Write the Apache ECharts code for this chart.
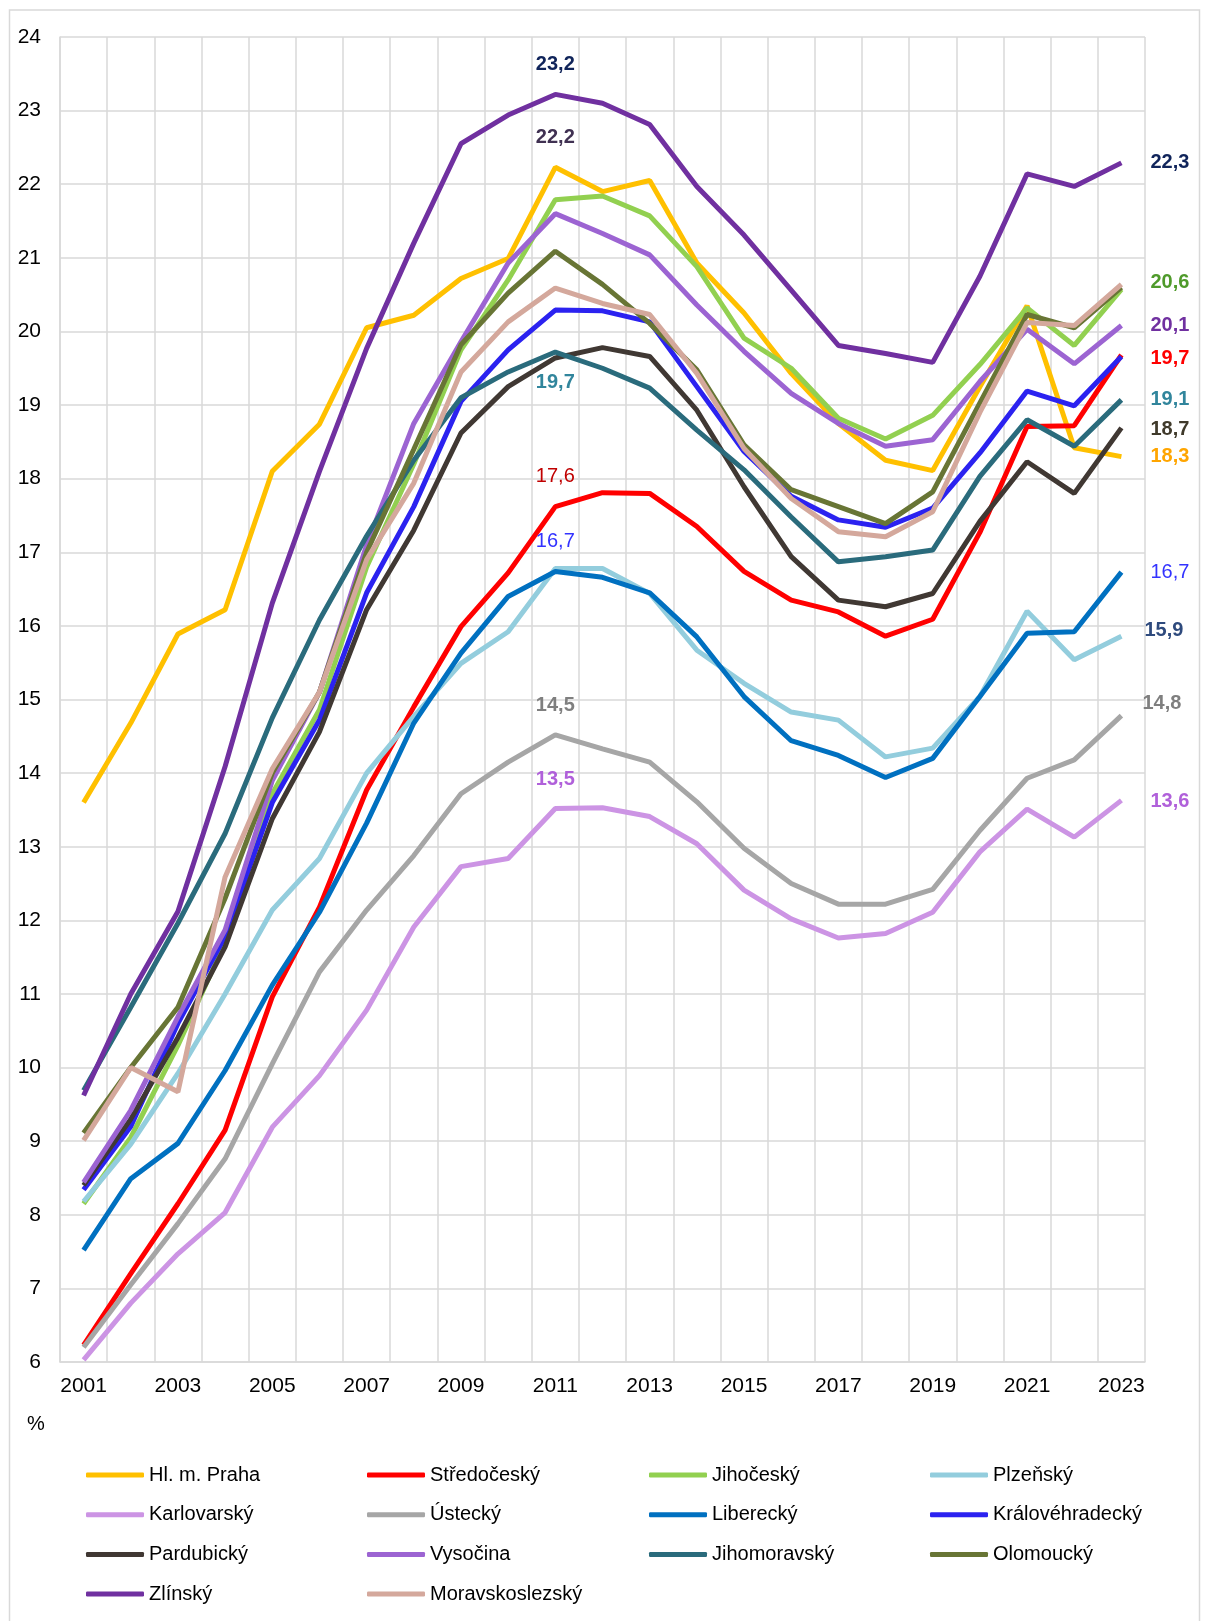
<!DOCTYPE html>
<html>
<head>
<meta charset="utf-8">
<script src="https://cdn.jsdelivr.net/npm/echarts@6/dist/echarts.min.js"></script>
<style>
  html, body { margin: 0; padding: 0; background: #fff; }
  #chart { width: 1208px; height: 1621px; }
</style>
</head>
<body>
<div id="chart"></div>
<script>
// roky
const years = ['2001','2002','2003','2004','2005','2006','2007','2008','2009','2010','2011','2012',
  '2013','2014','2015','2016','2017','2018','2019','2020','2021','2022','2023'];

// hodnoty v % podle krajů
const praha = [13.60,14.68,15.89,16.22,18.10,18.74,20.05,20.22,20.72,20.99,22.23,21.90,22.05,20.93,20.25,19.43,18.75,18.25,18.11,19.25,20.35,18.42,18.30];
const stredocesky = [6.23,7.20,8.15,9.15,10.96,12.18,13.77,14.90,15.99,16.72,17.62,17.81,17.80,17.35,16.74,16.35,16.19,15.86,16.09,17.27,18.71,18.72,19.68];
const jihocesky = [8.15,9.05,10.30,11.70,13.72,14.86,16.80,18.20,19.75,20.70,21.79,21.84,21.57,20.88,19.91,19.50,18.82,18.54,18.86,19.55,20.32,19.81,20.57];
const plzensky = [8.18,8.96,9.92,11.00,12.14,12.84,14.00,14.77,15.49,15.92,16.78,16.78,16.44,15.67,15.22,14.83,14.72,14.22,14.34,15.04,16.20,15.54,15.86];
const karlovarsky = [6.03,6.80,7.47,8.03,9.19,9.89,10.78,11.91,12.73,12.84,13.52,13.53,13.41,13.04,12.41,12.02,11.76,11.82,12.11,12.93,13.51,13.13,13.63];
const ustecky = [6.20,7.05,7.88,8.76,10.05,11.30,12.14,12.88,13.72,14.15,14.52,14.33,14.15,13.61,12.98,12.50,12.22,12.22,12.42,13.22,13.93,14.18,14.78];
const liberecky = [7.52,8.49,8.97,9.96,11.12,12.11,13.32,14.68,15.63,16.40,16.74,16.66,16.45,15.85,15.04,14.44,14.24,13.94,14.20,15.04,15.90,15.92,16.73];
const kralovehradecky = [8.34,9.20,10.60,11.78,13.60,14.72,16.45,17.62,19.05,19.75,20.29,20.28,20.13,19.25,18.37,17.76,17.44,17.34,17.60,18.35,19.19,18.99,19.66];
const pardubicky = [8.40,9.30,10.41,11.64,13.38,14.56,16.22,17.30,18.62,19.25,19.64,19.78,19.66,18.93,17.89,16.94,16.35,16.26,16.44,17.42,18.23,17.80,18.69];
const vysocina = [8.44,9.42,10.69,11.87,13.90,15.10,17.10,18.75,19.86,20.93,21.60,21.33,21.04,20.36,19.73,19.16,18.75,18.44,18.53,19.32,20.03,19.56,20.08];
const jihomoravsky = [9.69,10.82,11.96,13.18,14.75,16.08,17.22,18.25,19.10,19.45,19.72,19.50,19.23,18.66,18.12,17.48,16.87,16.94,17.03,18.03,18.80,18.44,19.07];
const olomoucky = [9.11,10.00,10.82,12.30,14.00,15.10,17.00,18.40,19.82,20.52,21.09,20.64,20.11,19.48,18.46,17.85,17.62,17.39,17.82,19.03,20.23,20.05,20.60];
const zlinsky = [9.62,11.00,12.12,14.09,16.31,18.10,19.77,21.20,22.55,22.94,23.22,23.10,22.81,21.97,21.31,20.56,19.81,19.70,19.58,20.75,22.14,21.97,22.29];
const moravskoslezsky = [9.01,10.00,9.67,12.59,14.06,15.10,16.90,17.94,19.45,20.13,20.59,20.38,20.23,19.43,18.41,17.73,17.28,17.21,17.55,18.90,20.12,20.08,20.64];

const regionNames = ['Hl. m. Praha','Středočeský','Jihočeský','Plzeňský','Karlovarský','Ústecký','Liberecký',
  'Královéhradecký','Pardubický','Vysočina','Jihomoravský','Olomoucký','Zlínský','Moravskoslezský'];
const regionData = [praha, stredocesky, jihocesky, plzensky, karlovarsky, ustecky, liberecky,
  kralovehradecky, pardubicky, vysocina, jihomoravsky, olomoucky, zlinsky, moravskoslezsky];
const regionColors = ['#FFC000','#FF0000','#92D050','#93CDDD','#CC94E4','#A6A6A6','#0070C0',
  '#2B22F0','#403833','#9C64D2','#2A6B7C','#687535','#7030A0','#D4A89C'];

// popisky hodnot: [kraj, index roku, pozice, vzdálenost, posun, barva, tučně]
const callouts = [
  ['Zlínský', 10, 'top', 20, [0, 0], '#10245A', true],
  ['Hl. m. Praha', 10, 'top', 20, [0, 0], '#403152', true],
  ['Jihomoravský', 10, 'bottom', 20, [0, 0], '#31859C', true],
  ['Středočeský', 10, 'top', 20, [0, 0], '#C00000', false],
  ['Liberecký', 10, 'top', 20, [0, 0], '#3333FF', false],
  ['Ústecký', 10, 'top', 19, [0, 0], '#7F7F7F', true],
  ['Karlovarský', 10, 'top', 19, [0, 0], '#B060DA', true],
  ['Zlínský', 22, 'right', 29, [0, 0], '#10245A', true],
  ['Jihočeský', 22, 'right', 29, [0, -7], '#4F9A2B', true],
  ['Vysočina', 22, 'right', 29, [0, 0], '#7030A0', true],
  ['Středočeský', 22, 'right', 29, [0, 3], '#FF0000', true],
  ['Jihomoravský', 22, 'right', 29, [0, 0], '#31859C', true],
  ['Pardubický', 22, 'right', 29, [0, 2], '#403A2B', true],
  ['Hl. m. Praha', 22, 'right', 29, [0, 0], '#FFA500', true],
  ['Liberecký', 22, 'right', 29, [0, 0], '#3333FF', false],
  ['Plzeňský', 22, 'right', 23, [0, -6], '#2E4A7D', true],
  ['Ústecký', 22, 'right', 21, [0, -12], '#7F7F7F', true],
  ['Karlovarský', 22, 'right', 29, [0, 1], '#B060DA', true]
];

const FONT = '"Liberation Sans", Arial, sans-serif';
const GRID_COLOR = '#D9D9D9';

const series = regionNames.map((name, s) => {
  const data = regionData[s].map(v => v);
  callouts.filter(c => c[0] === name).forEach(c => {
    data[c[1]] = {
      value: regionData[s][c[1]],
      label: {
        show: true,
        position: c[2],
        distance: c[3],
        offset: c[4],
        color: c[5],
        fontWeight: c[6] ? 'bold' : 'normal',
        fontSize: 20,
        fontFamily: FONT,
        formatter: p => p.value.toFixed(1).replace('.', ',')
      }
    };
  });
  return {
    name: name,
    type: 'line',
    data: data,
    symbol: 'circle',
    symbolSize: 0,
    showSymbol: true,
    showAllSymbol: true,
    color: regionColors[s],
    lineStyle: { width: 5, color: regionColors[s] },
    emphasis: { disabled: true },
    animation: false
  };
});

// legenda ve 4 sloupcích
const legendCols = [
  ['Hl. m. Praha','Karlovarský','Pardubický','Zlínský'],
  ['Středočeský','Ústecký','Vysočina','Moravskoslezský'],
  ['Jihočeský','Liberecký','Jihomoravský'],
  ['Plzeňský','Královéhradecký','Olomoucký']
];
const legendLeft = [86, 367, 649, 930];
const legends = legendCols.map((col, i) => ({
  data: col,
  orient: 'vertical',
  left: legendLeft[i],
  top: 1465,
  itemWidth: 58,
  itemHeight: 5,
  itemGap: 19.7,
  icon: 'roundRect',
  selectedMode: false,
  padding: 0,
  textStyle: { fontSize: 20, lineHeight: 20, color: '#000', fontFamily: FONT }
}));

const chart = echarts.init(document.getElementById('chart'));
chart.setOption({
  backgroundColor: '#fff',
  animation: false,
  textStyle: { fontFamily: FONT },
  grid: { left: 60, top: 37, right: 63, bottom: 259, containLabel: false },
  legend: legends,
  xAxis: {
    type: 'category',
    data: years,
    boundaryGap: true,
    axisTick: { show: false },
    axisLine: { show: true, lineStyle: { color: GRID_COLOR, width: 1.5 } },
    axisLabel: { interval: 1, margin: 14, fontSize: 21, color: '#000', fontFamily: FONT },
    splitLine: { show: true, interval: 0, lineStyle: { color: GRID_COLOR, width: 1.5 } }
  },
  yAxis: {
    type: 'value',
    min: 6,
    max: 24,
    interval: 1,
    axisLine: { show: true, lineStyle: { color: GRID_COLOR, width: 1.5 } },
    axisTick: { show: false },
    axisLabel: { margin: 19, fontSize: 21, color: '#000', fontFamily: FONT },
    splitLine: { show: true, lineStyle: { color: GRID_COLOR, width: 1.5 } }
  },
  graphic: [
    {
      type: 'rect',
      shape: { x: 9.5, y: 10, width: 1190, height: 1620 },
      style: { fill: 'none', stroke: GRID_COLOR, lineWidth: 1.5 },
      silent: true
    },
    {
      type: 'text',
      left: 27,
      top: 1414,
      style: { text: '%', fontSize: 20, fill: '#000', font: '20px ' + FONT }
    }
  ],
  series: series
});
</script>
</body>
</html>
